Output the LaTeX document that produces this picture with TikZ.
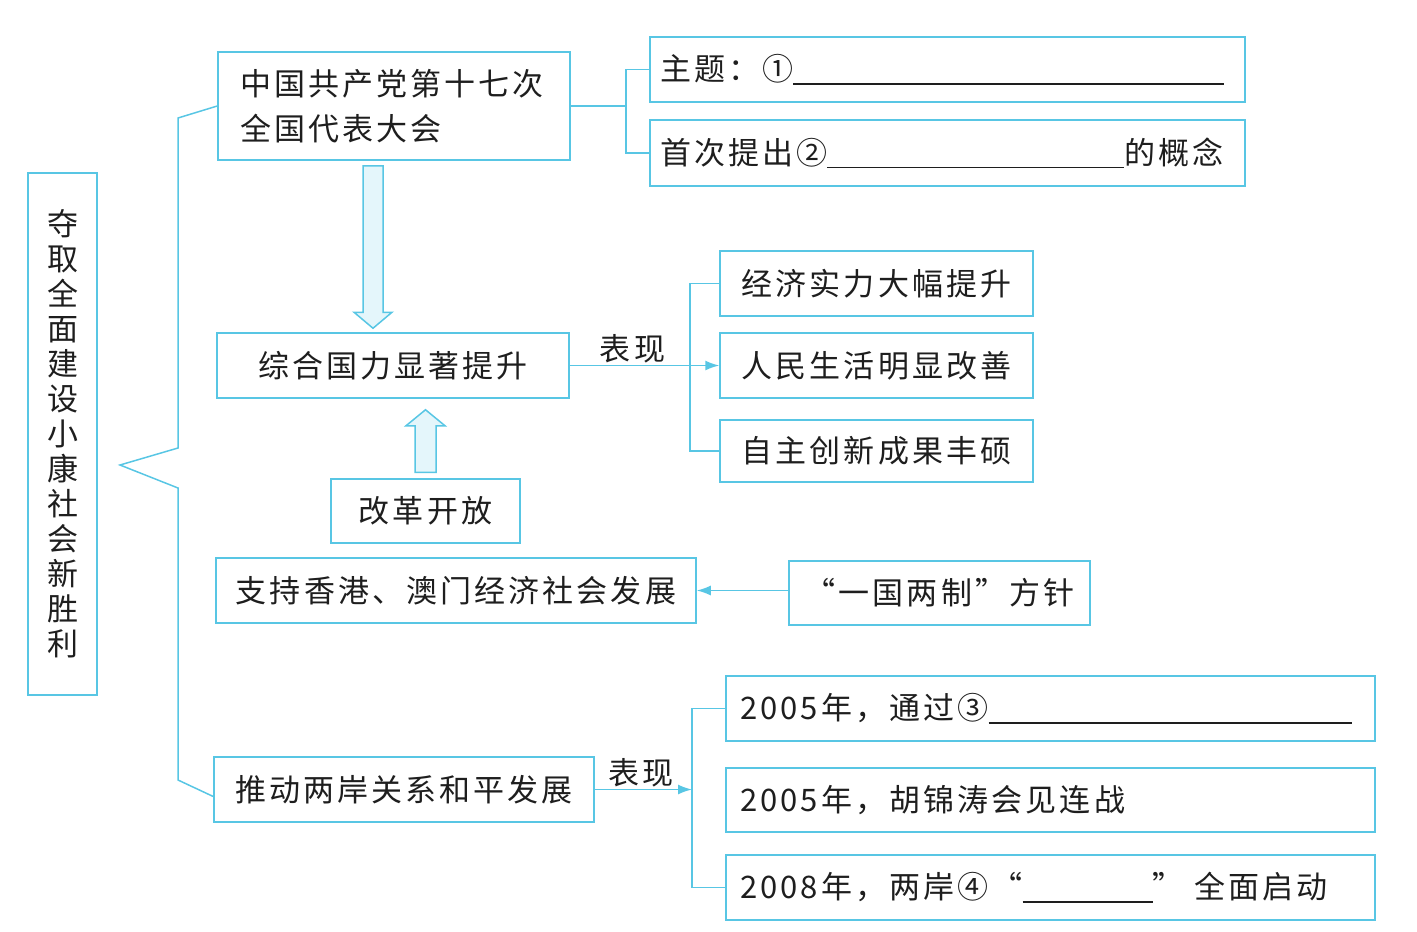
\documentclass[tikz,border=0pt]{standalone}
\usepackage{fontspec}
\setmainfont{Noto Sans CJK SC}
\newfontfamily\cjk{Noto Sans CJK SC}[LetterSpace=10]
\usetikzlibrary{arrows.meta,calc}
\definecolor{lineblue}{RGB}{88,198,228}
\definecolor{arrowfill}{RGB}{228,246,251}
\definecolor{ink}{RGB}{30,30,30}
\newcommand{\fillin}[1]{\rule[-4pt]{#1pt}{1.6pt}}

\begin{document}
\begin{tikzpicture}[x=1pt,y=-1pt,
  box/.style={draw=lineblue,line width=1.5pt,inner sep=0pt,text=ink,font=\cjk\fontsize{31}{45}\selectfont},
  link/.style={draw=lineblue,line width=1.5pt},
  arr/.style={link,-{Latex[length=14pt,width=10pt]}},
  fat/.style={draw=lineblue,line width=1.5pt,fill=arrowfill,line join=miter},
  lbl/.style={text=ink,font=\cjk\fontsize{31}{36}\selectfont,inner sep=2pt}]
\useasboundingbox (0,0) rectangle (1417,932);

\node[box,minimum width=69pt,minimum height=522pt,align=center,font=\cjk\fontsize{31}{35}\selectfont] (goal) at (62.5,434)
  {夺\\取\\全\\面\\建\\设\\小\\康\\社\\会\\新\\胜\\利};

\node[box,minimum width=352pt,minimum height=108pt,text width=308pt,align=left] (cong) at (394,106) {中国共产党第十七次\\全国代表大会};
\node[box,minimum width=595pt,minimum height=65pt,text width=575pt,align=left] (theme) at (947.5,69.5) {主题：①\fillin{431}};
\node[box,minimum width=595pt,minimum height=66pt,text width=575pt,align=left] (concept) at (947.5,153) {首次提出②\fillin{297}的概念};

\node[box,minimum width=352pt,minimum height=65pt] (power) at (393,365.5) {综合国力显著提升};
\node[box,minimum width=189pt,minimum height=64pt] (reform) at (425.5,511) {改革开放};
\node[box,minimum width=313pt,minimum height=65pt] (econ) at (876.5,283.5) {经济实力大幅提升};
\node[box,minimum width=313pt,minimum height=65pt] (life) at (876.5,365.5) {人民生活明显改善};
\node[box,minimum width=313pt,minimum height=62pt] (innov) at (876.5,451) {自主创新成果丰硕};

\node[box,minimum width=480pt,minimum height=65pt] (hkmo) at (456,590.5) {支持香港、澳门经济社会发展};
\node[box,minimum width=301pt,minimum height=64pt] (oneco) at (939.5,593) {“一国两制”方针};

\node[box,minimum width=380pt,minimum height=65pt] (cross) at (404,789.5) {推动两岸关系和平发展};
\node[box,minimum width=649pt,minimum height=65pt,text width=621pt,align=left] (law) at (1050.5,708.5) {2005年，通过③\fillin{363}};
\node[box,minimum width=649pt,minimum height=64pt,text width=621pt,align=left] (meet) at (1050.5,800) {2005年，胡锦涛会见连战};
\node[box,minimum width=649pt,minimum height=65pt,text width=621pt,align=left] (three) at (1050.5,887.5) {2008年，两岸④“\fillin{130}”\ 全面启动};

\coordinate (tip) at (120,465);
\coordinate (j1) at (626,106);
\coordinate (j2) at (690,365.5);
\coordinate (j3) at (692,789.5);
\coordinate (dn) at ([xshift=-20pt]power.north);
\coordinate (up) at (reform.north |- power.south);

\draw[link,line join=miter] (cong.west) -- (178,118) -- (178,448) -- (tip) -- (178,488) -- (178,780) -- ([yshift=-7pt]cross.west);

\draw[link] (cong.east) -- (j1);
\draw[link] (theme.west) -| (j1) |- (concept.west);

\draw[link] (econ.west) -| (j2) |- (innov.west);
\draw[arr] (power.east) -- node[lbl,above,pos=0.42]{表现} (life.west);

\draw[arr] (oneco.west |- hkmo.east) -- (hkmo.east);

\draw[link] (law.west) -| (j3) |- (three.west);
\draw[arr] (cross.east) -- node[lbl,above,pos=0.48]{表现} (j3);

\draw[fat] ([xshift=-10pt,yshift=-5pt]cong.south -| dn) -- ([xshift=-10pt,yshift=20pt]dn)
  -- ([xshift=-19pt,yshift=20pt]dn) -- ([yshift=4pt]dn)
  -- ([xshift=19pt,yshift=20pt]dn) -- ([xshift=10pt,yshift=20pt]dn)
  -- ([xshift=10pt,yshift=-5pt]cong.south -| dn) -- cycle;

\draw[fat] ([xshift=-10.5pt,yshift=6pt]reform.north) -- ([xshift=-10.5pt,yshift=-27pt]up)
  -- ([xshift=-19.5pt,yshift=-27pt]up) -- ([yshift=-11pt]up)
  -- ([xshift=19.5pt,yshift=-27pt]up) -- ([xshift=10.5pt,yshift=-27pt]up)
  -- ([xshift=10.5pt,yshift=6pt]reform.north) -- cycle;
\end{tikzpicture}
\end{document}
